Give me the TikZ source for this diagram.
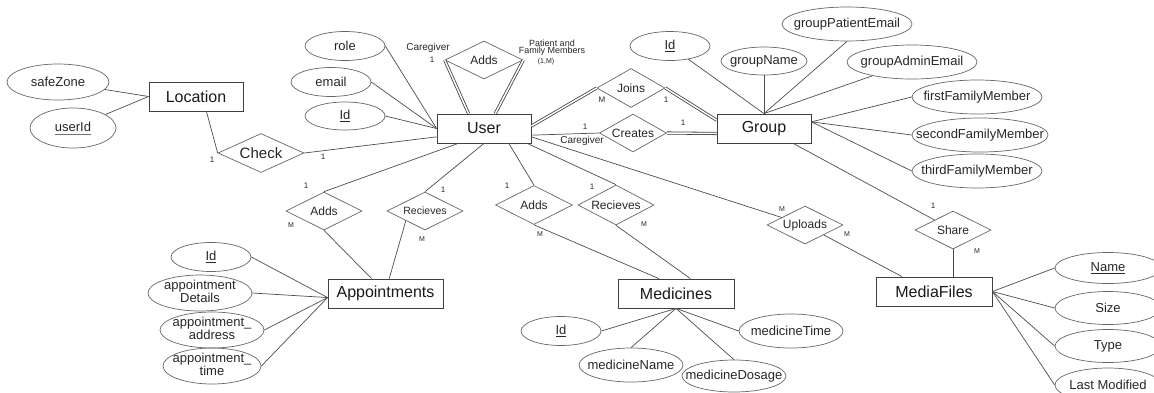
\documentclass[tikz,border=0pt]{standalone}
\usepackage{fontspec}
\setmainfont{Liberation Sans}
\usetikzlibrary{shapes.geometric,calc}
\newcommand{\mytxt}[1]{\makebox[0pt]{#1}}
\newcommand{\mytwo}[2]{\makebox[0pt]{\begin{tabular}{@{}c@{}}#1\\#2\end{tabular}}}
\newcommand{\mydotul}[1]{\setbox0=\hbox{#1}\rlap{\raisebox{-3pt}{\hbox to \wd0{\color{black!55}\leaders\hbox to 2pt{\hss\vrule width 1.2pt height 0.6pt\hss}\hfill}}}\copy0}
\tikzset{
 ent/.style={draw=black!75, line width=0.8pt, rectangle, inner sep=0pt, text=black!90, font=\fontsize{16}{19}\selectfont},
 attr/.style={draw=black!60, line width=0.7pt, ellipse, inner sep=0pt, text=black!85, font=\fontsize{13}{11}\selectfont},
 rel/.style={draw=black!60, line width=0.7pt, diamond, aspect=2, inner sep=0pt, text=black!85, font=\fontsize{12}{14}\selectfont},
 conn/.style={draw=black!70, line width=0.7pt},
 dbl/.style={draw=black!75, double=white, double distance=1.5pt, line width=0.8pt},
 card/.style={font=\fontsize{8}{9}\selectfont, inner sep=0pt, text=black!85},
 cardm/.style={font=\fontsize{7}{8}\selectfont, inner sep=0pt, text=black!85},
 rolelbl/.style={font=\fontsize{10}{11}\selectfont, inner sep=0pt, text=black!85},
}
\begin{document}
\begin{tikzpicture}[x=1pt,y=-1pt]
\useasboundingbox (0,0) rectangle (1154,392);
\clip (0,0) rectangle (1154,392);

% entities
\node[ent, minimum width=94pt, minimum height=29pt] (loc) at (196,96.5) {Location};
\node[ent, minimum width=94pt, minimum height=29pt] (usr) at (484,128.5) {User};
\node[ent, minimum width=94pt, minimum height=29pt] (grp) at (764,128.5) {Group};
\node[ent, minimum width=115pt, minimum height=29pt] (app) at (385.5,293.5) {Appointments};
\node[ent, minimum width=116pt, minimum height=29pt] (med) at (676,293.5) {Medicines};
\node[ent, minimum width=116pt, minimum height=29pt] (mf) at (934,291.5) {MediaFiles};

% attributes
\node[attr, minimum width=102pt, minimum height=36pt] (sfz) at (58,82) {\mytxt{safeZone}};
\node[attr, minimum width=86pt, minimum height=40pt] (luid) at (73,128) {\mytxt{\mydotul{userId}}};
\node[attr, minimum width=80pt, minimum height=29pt] (rol) at (345,46) {\mytxt{role}};
\node[attr, minimum width=80pt, minimum height=29pt] (eml) at (331,82) {\mytxt{email}};
\node[attr, minimum width=80pt, minimum height=28pt] (uid) at (345,116) {\mytxt{\underline{Id}}};

\node[attr, minimum width=80pt, minimum height=29pt] (gid) at (670,46) {\mytxt{\underline{Id}}};
\node[attr, minimum width=86pt, minimum height=28pt] (gnm) at (764,61) {\mytxt{groupName}};
\node[attr, minimum width=130pt, minimum height=34pt] (gpe) at (847,24) {\mytxt{groupPatientEmail}};
\node[attr, minimum width=130pt, minimum height=34pt] (gae) at (912,62) {\mytxt{groupAdminEmail}};
\node[attr, minimum width=130pt, minimum height=34pt] (ffm) at (977,97) {\mytxt{firstFamilyMember}};
\node[attr, minimum width=136pt, minimum height=34pt] (sfm) at (980,135) {\mytxt{secondFamilyMember}};
\node[attr, minimum width=130pt, minimum height=34pt] (tfm) at (977,171) {\mytxt{thirdFamilyMember}};

\node[attr, minimum width=80pt, minimum height=29pt] (aid) at (211,257) {\mytxt{\underline{Id}}};
\node[attr, minimum width=104pt, minimum height=34pt] (adt) at (200,293) {\mytwo{appointment}{Details}};
\node[attr, minimum width=104pt, minimum height=34pt] (aadr) at (212,330) {\mytwo{appointment\_}{address}};
\node[attr, minimum width=98pt, minimum height=32pt] (atm) at (212,366) {\mytwo{appointment\_}{time}};

\node[attr, minimum width=80pt, minimum height=29pt] (mid) at (561,331) {\mytxt{\underline{Id}}};
\node[attr, minimum width=104pt, minimum height=34pt] (mnm) at (631,365) {\mytxt{medicineName}};
\node[attr, minimum width=104pt, minimum height=32pt] (mds) at (734,376) {\mytxt{medicineDosage}};
\node[attr, minimum width=104pt, minimum height=34pt] (mtm) at (791,331) {\mytxt{medicineTime}};

\node[attr, minimum width=106pt, minimum height=31pt] (nm) at (1108,268) {\mytxt{\underline{Name}}};
\node[attr, minimum width=106pt, minimum height=33pt] (siz) at (1108,308) {\mytxt{Size}};
\node[attr, minimum width=106pt, minimum height=33pt] (typ) at (1108,346) {\mytxt{Type}};
\node[attr, minimum width=106pt, minimum height=34pt] (lmd) at (1108,385) {\mytxt{Last Modified}};

% relationships
\node[rel, minimum width=86pt, minimum height=39pt, font=\fontsize{15}{17}\selectfont] (chk) at (261,153) {\mytxt{Check}};
\node[rel, minimum width=78pt, minimum height=38pt] (addu) at (484,60) {\mytxt{Adds}};
\node[rel, minimum width=68pt, minimum height=39pt] (joi) at (631,88) {\mytxt{Joins}};
\node[rel, minimum width=67pt, minimum height=38pt] (crt) at (633,133) {\mytxt{Creates}};
\node[rel, minimum width=76pt, minimum height=38pt] (radA) at (324,211) {\mytxt{Adds}};
\node[rel, minimum width=76pt, minimum height=38pt, font=\fontsize{10.5}{12}\selectfont] (rrA) at (425,211) {\mytxt{Recieves}};
\node[rel, minimum width=77pt, minimum height=39pt] (radM) at (534,205) {\mytxt{Adds}};
\node[rel, minimum width=76pt, minimum height=40pt] (rrM) at (616,205) {\mytxt{Recieves}};
\node[rel, minimum width=76pt, minimum height=38pt] (upl) at (805,225) {\mytxt{Uploads}};
\node[rel, minimum width=76pt, minimum height=38pt] (shr) at (953,230) {\mytxt{Share}};

% connectors: Location
\draw[conn] (sfz) -- (loc.west);
\draw[conn] (luid) -- (loc.west);
\draw[conn] (loc.-55) -- (chk.west);
\draw[conn] (chk.east) -- (usr.190);
% User attributes
\draw[conn] (rol.east) -- (usr.west);
\draw[conn] (eml.east) -- (usr.west);
\draw[conn] (uid.east) -- (usr.west);
% User relations
\draw[dbl] (addu.west) -- (usr.136);
\draw[dbl] (addu.east) -- (usr.53);
\draw[dbl] (usr.3) -- (joi.west);
\draw[dbl] (joi.east) -- (grp.170);
\draw[conn] (usr.-8) -- (crt.west);
\draw[dbl] (crt.east) -- (grp.186);
\draw[conn] (usr.-10) -- (upl);
\draw[conn] (upl) -- (mf.155);
\draw[conn] (grp.-27) -- (shr);
\draw[conn] (shr.south) -- (shr.south |- mf.north);
\draw[conn] (usr.210) -- (radA.north);
\draw[conn] (radA.south) -- (app.133);
\draw[conn] (usr.south) -- (rrA.north);
\draw[conn] (rrA.south west) -- (app.76);
\draw[conn] (usr.-31) -- (radM.north);
\draw[conn] (radM.south) -- (med.139.5);
\draw[conn] (usr.-19) -- (rrM.north);
\draw[conn] (rrM.south) -- (med.46);
% Group attributes
\draw[conn] (gid) -- (grp.north);
\draw[conn] (gnm.south) -- (grp.north);
\draw[conn] (gpe.south) -- (grp.north);
\draw[conn] (gae) -- (grp.north);
\draw[conn] (ffm.west) -- (grp.8);
\draw[conn] (sfm.west) -- (grp.8);
\draw[conn] (tfm.west) -- (grp.8);
% Appointment attributes
\draw[conn] (aid.east) -- (app.184);
\draw[conn] (adt.east) -- (app.184);
\draw[conn] (aadr.east) -- (app.184);
\draw[conn] (atm.east) -- (app.184);
% Medicine attributes
\draw[conn] (mid.east) -- (med.south);
\draw[conn] (mnm.north) -- (med.south);
\draw[conn] (mds.north) -- (med.south);
\draw[conn] (mtm.west) -- (med.south);
% MediaFiles attributes
\draw[conn] (mf.east) -- (nm.west);
\draw[conn] (mf.east) -- (siz.west);
\draw[conn] (mf.east) -- (typ.west);
\draw[conn] (mf.east) -- (lmd.west);

% cardinalities and role labels
\node[card] (c1) at (212,160) {1};
\node[card] (c2) at (323,157) {1};
\node[rolelbl] (r1) at (428,48) {Caregiver};
\node[card] (c3) at (432,60) {1};
\node[align=center, inner sep=0pt, text=black!85, font=\fontsize{9}{7.6}\selectfont] (r2) at (552,47.5) {Patient and\\Family Members};
\node[cardm] (c4) at (546,62) {(1,M)};
\node[card] (c5) at (602,100) {M};
\node[card] (c6) at (666,100) {1};
\node[card] (c7) at (585,127) {1};
\node[rolelbl] (r3) at (582,141) {Caregiver};
\node[card] (c8) at (683,123) {1};
\node[card] (c9) at (306,186) {1};
\node[cardm] (c10) at (291,225) {M};
\node[card] (c11) at (443,190) {1};
\node[cardm] (c12) at (422,239) {M};
\node[card] (c13) at (507,186) {1};
\node[cardm] (c14) at (540,234) {M};
\node[card] (c15) at (592,187) {1};
\node[cardm] (c16) at (644,224) {M};
\node[cardm] (c17) at (782,209) {M};
\node[cardm] (c18) at (847,234) {M};
\node[card] (c19) at (933,206) {1};
\node[cardm] (c20) at (977,251) {M};
\end{tikzpicture}
\end{document}
